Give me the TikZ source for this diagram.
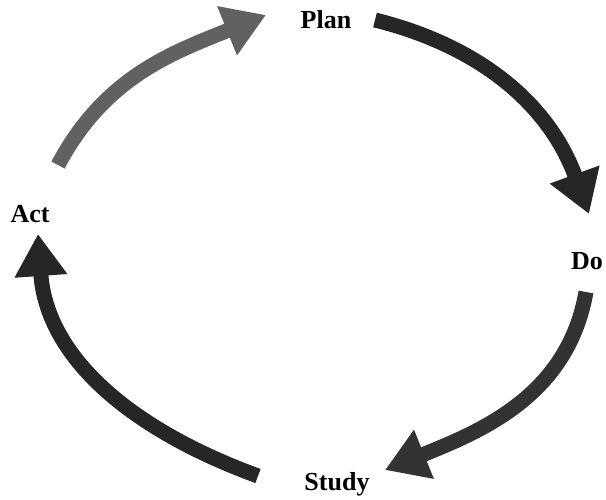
\documentclass[tikz,border=0pt]{standalone}
\usepackage{fontspec}
\setmainfont{Liberation Serif}
\usetikzlibrary{arrows.meta}
\tikzset{
  lbl/.style={font=\fontsize{26}{30}\selectfont\bfseries, inner sep=0pt},
  cyc/.style={line width=15pt, -{Triangle[width=50pt,length=42pt]}},
}
\begin{document}
\begin{tikzpicture}[x=1pt,y=1pt]
\useasboundingbox (0,0) rectangle (606,500);
\node[lbl] (plan) at (326,480) {Plan};
\node[lbl] (do) at (587,239) {Do};
\node[lbl] (act) at (30,286) {Act};
\node[lbl] (study) at (337,16) {Study};
\coordinate (a1s) at (58,335);
\coordinate (a1e) at (266,485);
\coordinate (a2s) at (375,480);
\coordinate (a2e) at (589,286);
\coordinate (a3s) at (586,208);
\coordinate (a3e) at (385,30);
\coordinate (a4s) at (258,24);
\coordinate (a4e) at (38,266);
\draw[cyc, draw=black!62] (a1s) to[out=62, in=202] (a1e);
\draw[cyc, draw=black!85] (a2s) to[out=-14, in=110] (a2e);
\draw[cyc, draw=black!80] (a3s) to[out=-100, in=22] (a3e);
\draw[cyc, draw=black!85] (a4s) to[out=160, in=-86] (a4e);
\end{tikzpicture}
\end{document}
